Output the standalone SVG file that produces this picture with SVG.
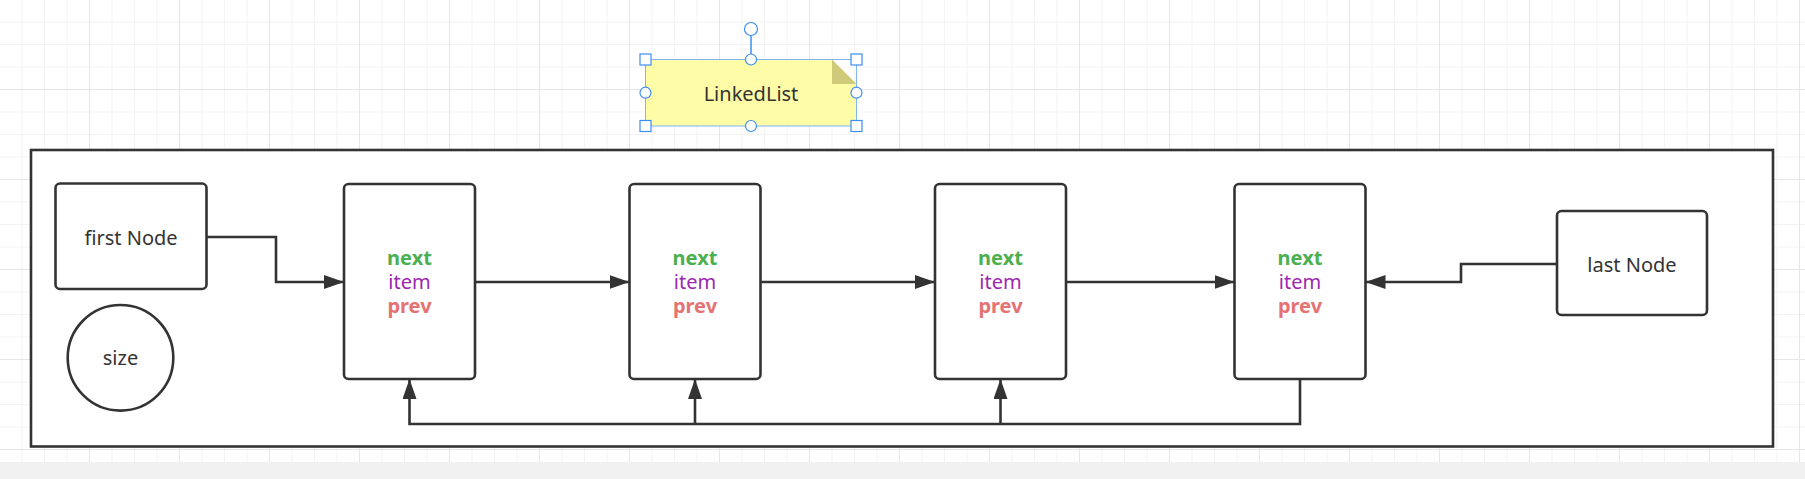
<svg xmlns="http://www.w3.org/2000/svg" width="1805" height="479" viewBox="0 0 1805 479">
<style>
.box{fill:#fff;stroke:#333;stroke-width:2.6}
.lbl{font-family:"Noto Sans","Open Sans","Liberation Sans",sans-serif;font-size:20px;fill:#333;text-anchor:middle}
.fld{font-family:"Noto Sans","Open Sans","Liberation Sans",sans-serif;font-size:20px;text-anchor:middle}
.conn{fill:none;stroke:#333;stroke-width:2.6}
.sel{fill:#fff;stroke:#3d8ef0;stroke-width:1.2}
</style>
<defs>
<pattern id="grid" x="-1" y="-1" width="90" height="90" patternUnits="userSpaceOnUse">
<path d="M23,0V90M45.5,0V90M68,0V90M0,23H90M0,45.5H90M0,68H90" stroke="#f3f3f3" stroke-width="1" fill="none"/>
<path d="M0.5,0V90M0,0.5H90" stroke="#e6e6e6" stroke-width="1" fill="none"/>
</pattern>
<marker id="arr" markerUnits="userSpaceOnUse" markerWidth="22" markerHeight="16" refX="20" refY="7" orient="auto">
<path d="M0,0L20,7L0,14Z" fill="#333"/>
</marker>
</defs>
<rect width="1805" height="479" fill="#fff"/>
<rect width="1805" height="462" fill="url(#grid)"/>
<rect y="462" width="1805" height="17" fill="#f1f1f1"/>

<g id="container"><rect x="31" y="150" width="1742" height="296.5" class="box"/></g>

<g id="note">
<polygon points="645.5,59.5 832,59.5 856.5,84 856.5,126 645.5,126" fill="#fffca8"/>
<polygon points="832,59.5 832,84 856.5,84" fill="#cfca7a"/>
<text x="751" y="101" class="lbl">LinkedList</text>
<rect x="645.5" y="59.5" width="211" height="66.5" fill="none" stroke="#7fb6f2" stroke-width="1"/>
<line x1="751" y1="36" x2="751" y2="59.5" stroke="#3d8ef0" stroke-width="1.5"/>
<circle cx="751" cy="29" r="6.5" class="sel" stroke-width="1.8"/>
<rect x="640" y="54" width="11" height="11" class="sel"/>
<rect x="851" y="54" width="11" height="11" class="sel"/>
<rect x="640" y="120.5" width="11" height="11" class="sel"/>
<rect x="851" y="120.5" width="11" height="11" class="sel"/>
<circle cx="751" cy="59.5" r="5.5" class="sel"/>
<circle cx="751" cy="126" r="5.5" class="sel"/>
<circle cx="645.5" cy="92.7" r="5.5" class="sel"/>
<circle cx="856.5" cy="92.7" r="5.5" class="sel"/>
</g>

<g id="firstNode"><rect x="55.5" y="183.5" width="151" height="105.5" rx="4.5" class="box"/><text x="131" y="245" class="lbl">first Node</text></g>
<g id="size"><circle cx="120.5" cy="357.8" r="52.8" class="box"/><text x="120.5" y="365" class="lbl">size</text></g>

<g id="node1"><rect x="344" y="184" width="131" height="195" rx="4.5" class="box"/>
<text x="409.5" class="fld"><tspan y="265" fill="#4caf50" font-weight="bold">next</tspan><tspan x="409.5" y="288.5" fill="#9c27b0">item</tspan><tspan x="409.5" y="312.5" fill="#e57373" font-weight="bold">prev</tspan></text></g>
<g id="node2"><rect x="629.5" y="184" width="131" height="195" rx="4.5" class="box"/>
<text x="695" class="fld"><tspan y="265" fill="#4caf50" font-weight="bold">next</tspan><tspan x="695" y="288.5" fill="#9c27b0">item</tspan><tspan x="695" y="312.5" fill="#e57373" font-weight="bold">prev</tspan></text></g>
<g id="node3"><rect x="935" y="184" width="131" height="195" rx="4.5" class="box"/>
<text x="1000.5" class="fld"><tspan y="265" fill="#4caf50" font-weight="bold">next</tspan><tspan x="1000.5" y="288.5" fill="#9c27b0">item</tspan><tspan x="1000.5" y="312.5" fill="#e57373" font-weight="bold">prev</tspan></text></g>
<g id="node4"><rect x="1234.5" y="184" width="131" height="195" rx="4.5" class="box"/>
<text x="1300" class="fld"><tspan y="265" fill="#4caf50" font-weight="bold">next</tspan><tspan x="1300" y="288.5" fill="#9c27b0">item</tspan><tspan x="1300" y="312.5" fill="#e57373" font-weight="bold">prev</tspan></text></g>
<g id="lastNode"><rect x="1557" y="211" width="150" height="104" rx="4.5" class="box"/><text x="1632" y="271.5" class="lbl">last Node</text></g>

<g id="connectors">
<path d="M206.5,237H276V282H344" class="conn" marker-end="url(#arr)"/>
<path d="M475,282H629.5" class="conn" marker-end="url(#arr)"/>
<path d="M760.5,282H935" class="conn" marker-end="url(#arr)"/>
<path d="M1066,282H1234.5" class="conn" marker-end="url(#arr)"/>
<path d="M1557,264H1461V282H1365.5" class="conn" marker-end="url(#arr)"/>
<path d="M1300,379V424H409.5V379" class="conn" marker-end="url(#arr)"/>
<path d="M695,424V379" class="conn" marker-end="url(#arr)"/>
<path d="M1000.5,424V379" class="conn" marker-end="url(#arr)"/>
</g>
</svg>
